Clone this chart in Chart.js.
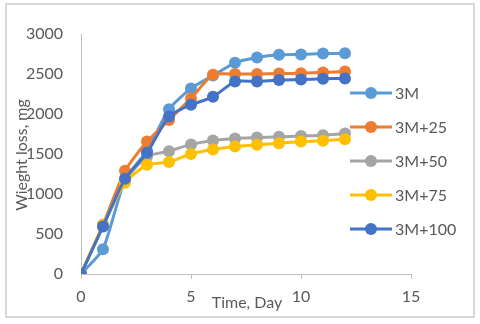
<!DOCTYPE html>
<html>
<head>
<meta charset="utf-8">
<script src="https://cdn.jsdelivr.net/npm/chart.js@4/dist/chart.umd.min.js"></script>
<style>
html,body{margin:0;padding:0;background:#fff;}
#wrap{width:480px;height:324px;position:relative;}
</style>
</head>
<body>
<div id="wrap"><canvas id="c" width="480" height="324"></canvas></div>
<script>
const days = [0,1,2,3,4,5,6,7,8,9,10,11,12];
const seriesNames = ['3M','3M+25','3M+50','3M+75','3M+100'];
const s3M    = [0, 310, 1180, 1540, 2060, 2320, 2480, 2640, 2705, 2740, 2745, 2755, 2760];
const s3M25  = [0, 615, 1290, 1655, 1925, 2195, 2490, 2500, 2500, 2505, 2510, 2520, 2530];
const s3M50  = [0, 600, 1170, 1470, 1535, 1620, 1670, 1695, 1705, 1715, 1725, 1735, 1755];
const s3M75  = [0, 610, 1140, 1365, 1400, 1500, 1555, 1595, 1615, 1635, 1655, 1665, 1685];
const s3M100 = [0, 595, 1190, 1515, 1970, 2115, 2215, 2405, 2405, 2425, 2430, 2440, 2445];
const xTicks = [0,5,10,15];
const yTicks = [0,500,1000,1500,2000,2500,3000];
const colors = ['#5B9BD5','#ED7D31','#A5A5A5','#FFC000','#4472C4'];
const allSeries = [s3M, s3M25, s3M50, s3M75, s3M100];

const FONT = 'Lato, "Open Sans", sans-serif';
const TXT = '#595959';
const FS = 16;

const datasets = allSeries.map((vals, i) => ({
  label: seriesNames[i],
  data: vals.map((v, j) => ({x: days[j], y: v})),
  borderColor: colors[i],
  backgroundColor: colors[i],
  borderWidth: 3,
  pointRadius: 6,
  pointBorderWidth: 0,
  pointBackgroundColor: colors[i],
  tension: 0.2,
  order: allSeries.length - i
}));

const decor = {
  id: 'decor',
  beforeDraw(chart) {
    const ctx = chart.ctx;
    ctx.save();
    ctx.fillStyle = '#fff';
    ctx.fillRect(0, 0, chart.width, chart.height);
    ctx.strokeStyle = '#d9d9d9';
    ctx.lineWidth = 2;
    ctx.strokeRect(6, 4, 468, 313);
    ctx.restore();
  },
  afterDraw(chart) {
    const ctx = chart.ctx;
    ctx.save();
    ctx.fillStyle = TXT;
    ctx.font = FS + 'px ' + FONT;
    ctx.textBaseline = 'middle';
    ctx.textAlign = 'center';
    ctx.fillText('Time, Day', 247, 303);
    ctx.save();
    ctx.translate(22, 155);
    ctx.rotate(-Math.PI / 2);
    ctx.fillText('Wieght loss, mg', 0, 0);
    ctx.restore();
    ctx.textAlign = 'left';
    seriesNames.forEach((name, i) => {
      const y = 93 + 34 * i;
      ctx.strokeStyle = colors[i];
      ctx.lineWidth = 3;
      ctx.beginPath();
      ctx.moveTo(350, y);
      ctx.lineTo(392, y);
      ctx.stroke();
      ctx.fillStyle = colors[i];
      ctx.beginPath();
      ctx.arc(371, y, 6, 0, Math.PI * 2);
      ctx.fill();
      ctx.fillStyle = TXT;
      ctx.fillText(name, 395, y + 1);
    });
    ctx.restore();
  }
};

new Chart(document.getElementById('c'), {
  type: 'line',
  data: { datasets },
  plugins: [decor],
  options: {
    responsive: false,
    animation: false,
    events: [],
    layout: { padding: { left: 0, right: 69, top: 34, bottom: 0 } },
    plugins: { legend: { display: false }, tooltip: { enabled: false } },
    scales: {
      x: {
        type: 'linear',
        min: 0, max: 15,
        afterBuildTicks(scale) { scale.ticks = xTicks.map(v => ({value: v})); },
        afterFit(scale) { scale.height = 50; },
        ticks: { color: TXT, font: { family: FONT, size: FS }, padding: 8, callback: v => String(v) },
        grid: { display: true, drawOnChartArea: false, drawTicks: true, tickLength: 5, color: '#bfbfbf' },
        border: { display: true, color: '#bfbfbf', width: 1 }
      },
      y: {
        min: 0, max: 3000,
        afterBuildTicks(scale) { scale.ticks = yTicks.map(v => ({value: v})); },
        afterFit(scale) { scale.width = 81; },
        ticks: { color: TXT, font: { family: FONT, size: FS }, padding: 18, callback: v => String(v) },
        grid: { display: true, drawOnChartArea: false, drawTicks: false, color: '#bfbfbf' },
        border: { display: true, color: '#bfbfbf', width: 1 }
      }
    }
  }
});
</script>
</body>
</html>
